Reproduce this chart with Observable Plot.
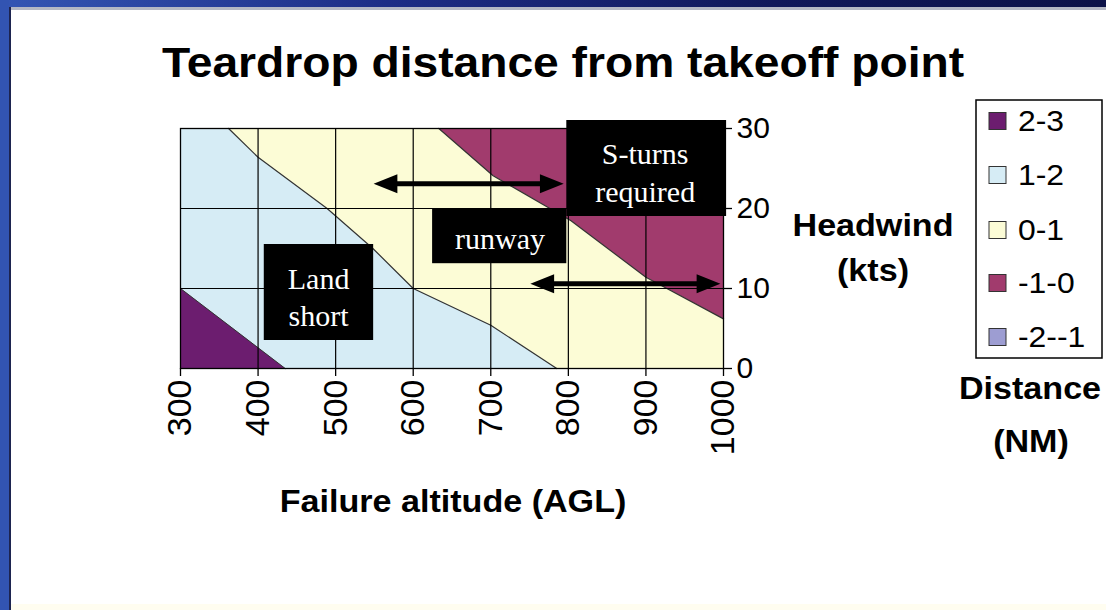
<!DOCTYPE html>
<html><head><meta charset="utf-8">
<script src="https://cdn.jsdelivr.net/npm/d3@7"></script>
<script src="https://cdn.jsdelivr.net/npm/@observablehq/plot@0.6"></script>
<style>
html,body{margin:0;padding:0;background:#fff;}
#slide{position:relative;width:1106px;height:610px;overflow:hidden;background:#fff;}
#topbar{position:absolute;left:0;top:0;width:1106px;height:7px;background:linear-gradient(to right,#3456b4,#1d2d86 35%,#10185a 70%,#0c1248);}
#topline{position:absolute;left:10px;top:7px;width:1096px;height:3px;background:#b4b8c4;}
#leftbar{position:absolute;left:0;top:0;width:9px;height:610px;background:#3254b2;}
#leftline{position:absolute;left:9px;top:7px;width:2px;height:603px;background:#1d2450;}
#bottom{position:absolute;left:11px;bottom:0;width:1095px;height:6px;background:#fffdf0;}
#chart{position:absolute;left:0;top:0;}
</style></head><body>
<div id="slide">
<div id="topbar"></div><div id="topline"></div><div id="leftbar"></div><div id="leftline"></div><div id="bottom"></div>
<div id="chart"></div>
</div>
<script>
// ---- data ----
const altitudeTicks = [300, 400, 500, 600, 700, 800, 900, 1000];
const windTicks = [0, 10, 20, 30];
const gridAlt = [400, 500, 600, 700, 800, 900];
const gridWind = [10, 20];

// contour boundaries (altitude ft, headwind kts)
const edge23Alt = [300, 435];
const edge23Wind = [10, 0];
const edge12Alt = [362, 400, 489, 548, 600, 700, 785];
const edge12Wind = [30, 26.4, 20, 15, 10, 5.4, 0];
const edge01Alt = [633, 703, 803, 900, 1000];
const edge01Wind = [30, 24.1, 18.5, 11.4, 6.2];

// legend
const legendLabels = ["2-3", "1-2", "0-1", "-1-0", "-2--1"];
const legendColors = ["#6c1d6f", "#d6ecf5", "#fcfcd6", "#a13b6d", "#9d9dd2"];

// annotations
const noteText = ["Land\nshort", "runway", "S-turns\nrequired"];
const noteAltFrom = [408, 625, 798];
const noteAltTo = [549, 798, 1004];
const noteWindFrom = [3.5, 13.1, 19];
const noteWindTo = [15.5, 20, 31];
const noteAlt = [478, 712, 899];
const noteWind = [9.1, 16.5, 24.7];

const arrowWind = [23.1, 10.6];
const arrowFrom = [549, 751];
const arrowTo = [794, 996];

// ---- build tables ----
const zip = (a, w) => a.map((alt, i) => ({alt, wind: w[i]}));
const edge23 = zip(edge23Alt, edge23Wind);
const edge12 = zip(edge12Alt, edge12Wind);
const edge01 = zip(edge01Alt, edge01Wind);
const band12 = [{alt: altitudeTicks[0], wind: windTicks[3]}, ...edge12];
const fullBand = [{alt: altitudeTicks[0]}, {alt: altitudeTicks[altitudeTicks.length - 1]}];
const notes = noteText.map((label, i) => ({label, a1: noteAltFrom[i], a2: noteAltTo[i], w1: noteWindFrom[i], w2: noteWindTo[i], alt: noteAlt[i], wind: noteWind[i]}));
const arrows = arrowWind.map((wind, i) => ({wind, from: arrowFrom[i], to: arrowTo[i]}));

const [c23, c12, c01, c10] = legendColors;

// arrow head symbol: tip at the origin, pointing right
const headSymbol = {
  draw(ctx, size) {
    const r = Math.sqrt(size / Math.PI);
    ctx.moveTo(0, 0);
    ctx.lineTo(-2.5 * r, -r);
    ctx.lineTo(-2.5 * r, r);
    ctx.closePath();
  }
};

const W = 1106, H = 610;
const plot = Plot.plot({
  width: W, height: H,
  marginLeft: 180, marginRight: W - 723, marginTop: 128, marginBottom: H - 368,
  x: {domain: [300, 1000]},
  y: {domain: [0, 30]},
  style: {background: "transparent", fontFamily: "'Liberation Sans', Arial, sans-serif", overflow: "visible", color: "black"},
  marks: [
    Plot.areaY(fullBand, {x: "alt", y1: 0, y2: 30, fill: c01}),
    Plot.areaY(band12, {x: "alt", y1: 0, y2: "wind", fill: c12}),
    Plot.areaY(edge23, {x: "alt", y1: 0, y2: "wind", fill: c23}),
    Plot.areaY(edge01, {x: "alt", y1: "wind", y2: 30, fill: c10}),
    Plot.line(edge12, {x: "alt", y: "wind", stroke: "#333", strokeWidth: 1.2}),
    Plot.line(edge01, {x: "alt", y: "wind", stroke: "#333", strokeWidth: 1.2}),
    Plot.line(edge23, {x: "alt", y: "wind", stroke: "#333", strokeWidth: 1}),
    Plot.ruleX(gridAlt, {stroke: "black", strokeWidth: 1.2}),
    Plot.ruleY(gridWind, {stroke: "black", strokeWidth: 1.2}),
    Plot.frame({stroke: "black", strokeWidth: 1.3}),
    Plot.axisX({ticks: altitudeTicks, tickFormat: d => String(d), tickRotate: -90, fontSize: 34, tickSize: 8, tickPadding: 3, label: null, strokeWidth: 1.3}),
    Plot.axisY({anchor: "right", ticks: windTicks, tickFormat: d => String(d), tickSize: 8, tickPadding: 5, fontSize: 30, label: null, strokeWidth: 1.3}),
    Plot.rect(notes, {x1: "a1", x2: "a2", y1: "w1", y2: "w2", fill: "black"}),
    Plot.text(notes, {x: "alt", y: "wind", text: "label", fill: "white", fontSize: 30, lineHeight: 1.25, fontFamily: "'Liberation Serif', 'Times New Roman', serif"}),
    Plot.ruleY(arrows, {y: "wind", x1: "from", x2: "to", stroke: "black", strokeWidth: 5, insetLeft: 10, insetRight: 10}),
    Plot.dot(arrows, {x: "to", y: "wind", symbol: headSymbol, r: 9.5, fill: "black", stroke: null}),
    Plot.dot(arrows, {x: "from", y: "wind", symbol: headSymbol, r: 9.5, fill: "black", stroke: null, rotate: 180})
  ]
});
document.getElementById("chart").appendChild(plot);

// ---- titles, axis names and legend as SVG text ----
const svg = d3.select(plot);
function addText(x, y, str, size, anchor = "middle", weight = "bold") {
  svg.append("text")
    .attr("transform", `translate(${x},${y}) scale(1.1,1)`)
    .attr("text-anchor", anchor)
    .attr("font-family", "'Liberation Sans', Arial, sans-serif")
    .attr("font-weight", weight)
    .attr("font-size", size)
    .attr("fill", "black")
    .text(str);
}
addText(563, 77, "Teardrop distance from takeoff point", 42);
addText(453, 512, "Failure altitude (AGL)", 31);
addText(873, 236, "Headwind", 31);
addText(873, 281, "(kts)", 31);
addText(1030, 399, "Distance", 31);
addText(1031, 452, "(NM)", 31);

svg.append("rect").attr("x", 976).attr("y", 100).attr("width", 126).attr("height", 258)
  .attr("fill", "white").attr("stroke", "black").attr("stroke-width", 1.5);
const rowY = [121, 175, 230, 283, 337];
legendLabels.forEach((lab, i) => {
  svg.append("rect").attr("x", 989).attr("y", rowY[i] - 8.5).attr("width", 17).attr("height", 17)
    .attr("fill", legendColors[i]).attr("stroke", "#333").attr("stroke-width", 1);
  addText(1018, rowY[i] + 10, lab, 29, "start", "normal");
});
</script>
</body></html>
